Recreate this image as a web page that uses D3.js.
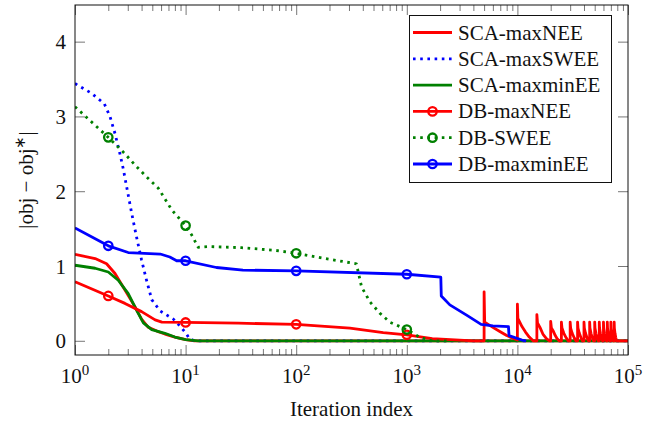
<html>
  <head>
    <title>D3: convergence of |obj - obj*|</title>
    <script type="text/javascript" src="https://d3js.org/d3.v7.min.js"></script>
    <style type="text/css">
      body { margin: 0; background: #fff; }
      text { font-family: "Liberation Serif", "Times New Roman", serif; fill: #111; }
    </style>
  </head>
  <body>
    <script type="text/javascript">

      //Width and height
      var w = 665;
      var h = 424;

      //Data: [iteration, |obj - obj*|]
      var scaMaxNEE = [[1,1.155],[1.52,1.10],[1.93,1.03],[2.3,0.90],[2.83,0.68],[3.5,0.45],[4.0,0.29],[4.6,0.18],
        [5.5,0.13],[6.5,0.09],[8,0.05],[10,0.015],[12,0],[100000,0]];

      var scaMaxSWEE = [[1,3.44],[1.41,3.31],[1.84,3.17],[2.07,3.0],[2.3,2.77],[2.55,2.5],[2.73,2.3],[2.93,2.06],
        [3.26,1.70],[3.61,1.38],[4.0,1.08],[4.45,0.80],[4.94,0.55],[5.87,0.40],[7.75,0.29],[9.0,0.19],
        [10.1,0.10],[10.8,0.03],[12,0],[100000,0]];

      var scaMaxminEE = [[1,1.01],[1.52,0.97],[2,0.92],[2.46,0.81],[3.03,0.63],[3.6,0.41],[4.15,0.24],[4.94,0.15],
        [6.5,0.10],[8,0.05],[10,0.015],[13,0],[100000,0]];

      var dbMaxNEE = [[1,0.79],[2,0.60],[2.83,0.50],[4,0.39],[5.3,0.28],[6.1,0.25],[10,0.245],[30,0.235],[100,0.22],
        [306,0.17],[612,0.11],[1000,0.08],[1700,0.03],[3000,0.01],[4000,0],
        [5000,0],[5000,0.655],[5060,0.25],[6000,0.18],[7000,0.12],[8000,0.07],[9200,0.03],[10000,0.01],
        [10000,0.49],[10100,0.30],[11000,0.19],[11800,0.12],[12800,0.05],[13900,0],[15000,0],
        [15000,0.35],[15200,0.24],[16000,0.18],[17000,0.09],[18300,0.03],[19500,0],[20000,0],
        [20000,0.26],[20300,0.17],[21100,0.13],[22000,0.07],[22800,0.03],[23800,0],
        [25000,0],[25000,0.25],[25300,0.17],[26300,0.10],[27600,0.04],[28800,0],
        [30000,0],[30000,0.25],[30300,0.17],[31300,0.10],[32600,0.04],[33800,0],
        [35000,0],[35000,0.25],[35300,0.17],[36300,0.10],[37600,0.04],[38800,0],
        [40000,0],[40000,0.25],[40300,0.17],[41300,0.10],[42600,0.04],[43800,0],
        [45000,0],[45000,0.25],[45300,0.17],[46300,0.10],[47600,0.04],[48800,0],
        [50000,0],[50000,0.25],[50300,0.17],[51300,0.10],[52600,0.04],[53800,0],
        [55000,0],[55000,0.25],[55300,0.17],[56300,0.10],[57600,0.04],[58800,0],
        [60000,0],[60000,0.25],[60300,0.17],[61300,0.10],[62600,0.04],[63800,0],
        [65000,0],[65000,0.25],[65300,0.17],[66300,0.10],[67600,0.04],[68800,0],
        [70000,0],[70000,0.25],[70300,0.17],[71300,0.10],[72600,0.04],[73800,0],
        [75000,0],[75000,0.25],[75300,0.17],[76300,0.10],[77600,0.04],[78800,0],
        [100000,0]];

      var dbSWEE = [[1,3.13],[2,2.72],[2.83,2.5],[3.49,2.35],[4.45,2.19],[5.67,2.04],[6.3,1.93],[7.5,1.75],
        [10,1.54],[11.4,1.41],[13,1.25],[16,1.26],[32,1.245],[64,1.21],[100,1.17],[182,1.10],[350,1.03],
        [390,0.72],[465,0.52],[570,0.37],[700,0.25],[1000,0.15],[1300,0.05],[1700,0],[2500,0]];

      var dbMaxminEE = [[1,1.51],[2,1.27],[3.03,1.18],[5.9,1.16],[7.2,1.12],[8.3,1.07],[10,1.07],[19,0.98],
        [33,0.945],[100,0.935],[1000,0.89],[2030,0.85],[2050,0.60],[2450,0.48],[3500,0.34],[4700,0.22],
        [6000,0.20],[8300,0.19],[8400,0.07],[11000,0.01],[12000,0]];

      var seriesNames = ["SCA-maxNEE", "SCA-maxSWEE", "SCA-maxminEE", "DB-maxNEE", "DB-SWEE", "DB-maxminEE"];
      var markIters = [2, 10, 100, 1000];
      var xTickValues = [1, 10, 100, 1000, 10000, 100000];
      var xTickExps = ["0", "1", "2", "3", "4", "5"];
      var yTickValues = [0, 1, 2, 3, 4];

      //Styles per series
      var series = [
        {name: seriesNames[0], data: scaMaxNEE, color: "#ff0000", dotted: false, marks: false},
        {name: seriesNames[1], data: scaMaxSWEE, color: "#0000ff", dotted: true, marks: false},
        {name: seriesNames[2], data: scaMaxminEE, color: "#008000", dotted: false, marks: false},
        {name: seriesNames[3], data: dbMaxNEE, color: "#ff0000", dotted: false, marks: true},
        {name: seriesNames[4], data: dbSWEE, color: "#008000", dotted: true, marks: true},
        {name: seriesNames[5], data: dbMaxminEE, color: "#0000ff", dotted: false, marks: true}
      ];

      //Plot frame
      var fx0 = 75, fx1 = 628, fy0 = 5, fy1 = 355;

      var x = d3.scaleLog().domain([1, 100000]).range([fx0, fx1]);
      var y = d3.scaleLinear().domain([-0.19, 4.49]).range([fy1, fy0]);

      //Create SVG element
      var svg = d3.select("body")
            .append("svg")
            .attr("width", w)
            .attr("height", h);

      svg.append("clipPath").attr("id", "clip")
         .append("rect")
         .attr("x", fx0).attr("y", fy0)
         .attr("width", fx1 - fx0).attr("height", fy1 - fy0);

      //Ticks (inward, all four sides)
      var minorTicks = x.ticks().filter(function(d) { return xTickValues.indexOf(d) < 0; });
      var tickCol = "#777";

      function styleAxis(g) {
        g.select(".domain").remove();
        g.selectAll("line").attr("stroke", tickCol);
      }

      svg.append("g").attr("transform", "translate(0," + fy1 + ")")
         .call(d3.axisBottom(x).tickValues(xTickValues).tickSize(-10).tickFormat(""))
         .call(styleAxis);
      svg.append("g").attr("transform", "translate(0," + fy1 + ")")
         .call(d3.axisBottom(x).tickValues(minorTicks).tickSize(-6).tickFormat(""))
         .call(styleAxis);
      svg.append("g").attr("transform", "translate(0," + fy0 + ")")
         .call(d3.axisTop(x).tickValues(xTickValues).tickSize(-10).tickFormat(""))
         .call(styleAxis);
      svg.append("g").attr("transform", "translate(0," + fy0 + ")")
         .call(d3.axisTop(x).tickValues(minorTicks).tickSize(-6).tickFormat(""))
         .call(styleAxis);

      var yAxisG = svg.append("g").attr("transform", "translate(" + fx0 + ",0)")
         .call(d3.axisLeft(y).tickValues(yTickValues).tickSize(-10).tickPadding(9).tickFormat(d3.format("d")))
         .call(styleAxis);
      yAxisG.selectAll("text")
         .attr("font-size", 21)
         .attr("fill", "#111")
         .attr("dy", "0.34em");
      svg.append("g").attr("transform", "translate(" + fx1 + ",0)")
         .call(d3.axisRight(y).tickValues(yTickValues).tickSize(-10).tickFormat(""))
         .call(styleAxis);

      //x tick labels 10^k
      var xLab = svg.append("g").selectAll("text")
         .data(xTickValues)
         .enter()
         .append("text")
         .attr("x", function(d) { return x(d); })
         .attr("y", 383)
         .attr("text-anchor", "middle")
         .attr("font-size", 21);
      xLab.append("tspan").text("10");
      xLab.append("tspan")
         .attr("dy", -8)
         .attr("font-size", 15)
         .text(function(d, i) { return xTickExps[i]; });

      //Lines
      var line = d3.line()
         .x(function(d) { return x(d[0]); })
         .y(function(d) { return y(d[1]); });

      var plot = svg.append("g").attr("clip-path", "url(#clip)");

      series.forEach(function(s) {
        plot.append("path")
           .attr("d", line(s.data))
           .attr("fill", "none")
           .attr("stroke", s.color)
           .attr("stroke-width", 2.8)
           .attr("stroke-linejoin", "round")
           .attr("stroke-dasharray", s.dotted ? "2.6,4.6" : null);
        if (s.marks) {
          plot.selectAll(null)
             .data(s.data.filter(function(d) { return markIters.indexOf(d[0]) >= 0; }))
             .enter()
             .append("circle")
             .attr("cx", function(d) { return x(d[0]); })
             .attr("cy", function(d) { return y(d[1]); })
             .attr("r", 4.2)
             .attr("fill", "none")
             .attr("stroke", s.color)
             .attr("stroke-width", 2.3);
        }
      });

      //Frame
      svg.append("rect")
         .attr("x", fx0).attr("y", fy0)
         .attr("width", fx1 - fx0).attr("height", fy1 - fy0)
         .attr("fill", "none")
         .attr("stroke", "#111")
         .attr("stroke-width", 1);

      //Axis labels
      svg.append("text")
         .attr("x", (fx0 + fx1) / 2)
         .attr("y", 416)
         .attr("text-anchor", "middle")
         .attr("font-size", 21)
         .text("Iteration index");

      var yLab = svg.append("text")
         .attr("transform", "translate(33,180) rotate(-90)")
         .attr("text-anchor", "middle")
         .attr("font-size", 21);
      yLab.append("tspan").text("|obj \u2212 obj");
      yLab.append("tspan").attr("dy", -8).attr("font-size", 15).text("\u2217");
      yLab.append("tspan").attr("dy", 8).text("|");

      //Legend
      var lg = svg.append("g");
      lg.append("rect")
         .attr("x", 409.5).attr("y", 15.5)
         .attr("width", 202).attr("height", 167)
         .attr("fill", "#fff")
         .attr("stroke", "#111")
         .attr("stroke-width", 1);

      var rows = lg.selectAll("g.row")
         .data(series)
         .enter()
         .append("g")
         .attr("class", "row")
         .attr("transform", function(d, i) { return "translate(0," + (32.5 + i * 26.3) + ")"; });

      rows.append("line")
         .attr("x1", 413).attr("x2", 452)
         .attr("stroke", function(d) { return d.color; })
         .attr("stroke-width", 2.8)
         .attr("stroke-dasharray", function(d) { return d.dotted ? "2.6,4.6" : null; });
      rows.filter(function(d) { return d.marks; })
         .append("circle")
         .attr("cx", 432.5)
         .attr("r", 4.2)
         .attr("fill", "none")
         .attr("stroke", function(d) { return d.color; })
         .attr("stroke-width", 2.3);
      rows.append("text")
         .attr("x", 458)
         .attr("y", 7)
         .attr("font-size", 21)
         .text(function(d) { return d.name; });

    </script>
  </body>
</html>
